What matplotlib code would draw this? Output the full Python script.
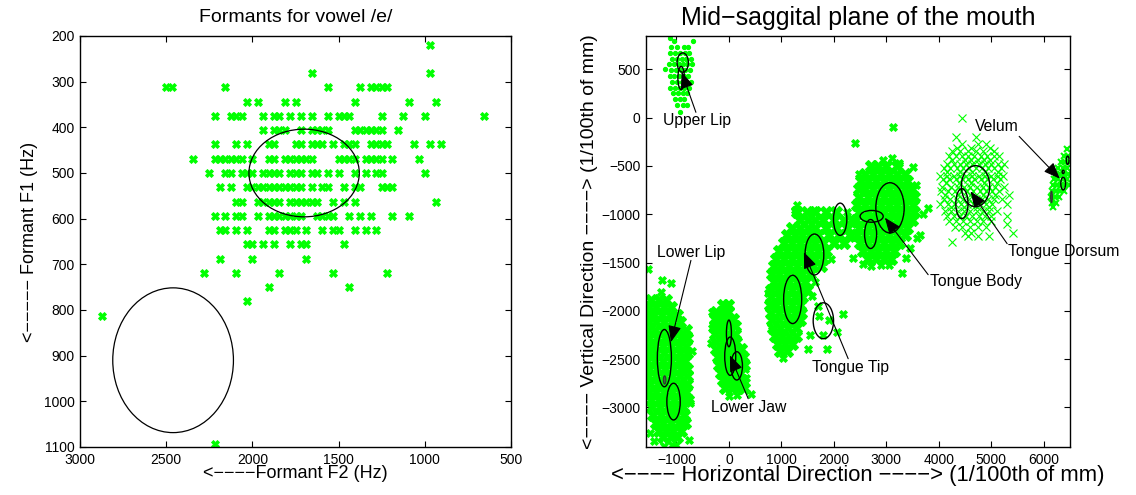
import matplotlib
matplotlib.use('Agg')
import matplotlib.pyplot as plt
from matplotlib.patches import Ellipse

plt.rcParams['font.family'] = ['Liberation Sans', 'DejaVu Sans']
plt.rcParams['axes.unicode_minus'] = True

GREEN = '#00ff00'

# ---------------- Left panel data: F1 level -> F2 values ----------------
f1_levels = [218.75, 281.25, 312.5, 343.75, 375, 406.25, 437.5, 468.75, 500,
             531.25, 562.5, 593.75, 625, 656.25, 687.5, 718.75, 750, 781.25,
             812.5, 1093.75]
f2_by_level = [
    [968.75],
    [1656.25, 968.75],
    [2500, 2468.75, 2156.25, 1562.5, 1375, 1312.5, 1281.25, 1250, 1218.75],
    [2031.25, 1968.75, 1812.5, 1750, 1406.25, 1093.75, 937.5],
    [2218.75, 2125, 2093.75, 2062.5, 1937.5, 1875, 1843.75, 1781.25, 1718.75,
     1656.25, 1562.5, 1500, 1468.75, 1437.5, 1250, 1125, 1000, 656.25],
    [1937.5, 1875, 1843.75, 1812.5, 1718.75, 1656.25, 1625, 1593.75, 1562.5,
     1406.25, 1375, 1343.75, 1312.5, 1281.25, 1250, 1156.25],
    [2218.75, 2093.75, 2031.25, 1906.25, 1875, 1750, 1718.75, 1656.25, 1625,
     1593.75, 1531.25, 1468.75, 1437.5, 1406.25, 1312.5, 1281.25, 1250,
     1218.75, 1062.5, 968.75, 906.25],
    [2343.75, 2218.75, 2187.5, 2156.25, 2125, 2093.75, 2062.5, 2000, 1906.25,
     1875, 1812.5, 1781.25, 1750, 1718.75, 1687.5, 1656.25, 1500, 1468.75,
     1437.5, 1406.25, 1343.75, 1312.5, 1281.25, 1250, 1187.5, 1031.25],
    [2250, 2156.25, 2125, 2062.5, 2031.25, 2000, 1937.5, 1906.25, 1875,
     1843.75, 1781.25, 1750, 1718.75, 1656.25, 1625, 1562.5, 1500, 1406.25,
     1343.75, 1281.25, 1250, 1000],
    [2187.5, 2125, 2031.25, 2000, 1968.75, 1937.5, 1906.25, 1875, 1843.75,
     1812.5, 1781.25, 1750, 1718.75, 1656.25, 1593.75, 1562.5, 1468.75,
     1406.25, 1375, 1250, 1218.75, 1187.5],
    [2093.75, 2062.5, 1968.75, 1937.5, 1906.25, 1875, 1843.75, 1781.25, 1750,
     1718.75, 1687.5, 1656.25, 1625, 1531.25, 1468.75, 1406.25, 937.5],
    [2218.75, 2156.25, 2093.75, 2062.5, 1968.75, 1906.25, 1875, 1843.75,
     1812.5, 1781.25, 1750, 1718.75, 1625, 1593.75, 1562.5, 1531.25, 1437.5,
     1375, 1312.5, 1187.5, 1093.75],
    [2187.5, 2156.25, 2093.75, 2031.25, 1906.25, 1875, 1812.5, 1781.25, 1750,
     1687.5, 1593.75, 1531.25, 1500, 1406.25, 1343.75, 1281.25],
    [2031.25, 2000, 1937.5, 1875, 1781.25, 1718.75, 1687.5, 1468.75],
    [2187.5, 2000, 1687.5],
    [2281.25, 2093.75, 1843.75, 1531.25, 1218.75],
    [1906.25, 1437.5],
    [2031.25],
    [2875],
    [2218.75],
]
# ellipses (F2 centre, F1 centre, width, height)
formant_ellipses = [(1700, 500, 640, 192), (2460, 910, 700, 317)]

# ---------------- Right panel data (core rows: y -> list of x) ----------------
upper_lip_rows = [
    (820, [-1120]), (790, [-1040, -680]), (730, [-1100, -980, -860, -780]),
    (670, [-1120, -1020, -930, -840, -760]),
    (610, [-1080, -990, -900, -810, -730]),
    (550, [-1150, -1050, -960, -870, -790, -700]),
    (500, [-1220]),
    (490, [-1100, -1010, -920, -830, -750]),
    (430, [-1130, -1040, -950, -860, -780]),
    (370, [-1080, -990, -900, -810, -730]),
    (310, [-1120, -1030, -940, -850, -770]),
    (250, [-1060, -970, -880, -800]),
    (190, [-1030, -940, -850]),
    (130, [-980, -880, -800]),
    (60, [-930]),
]
lower_lip_rows = [
    (-1890, [-1480, -1330, -1200]),
    (-1960, [-1530, -1390, -1240, -1100]),
    (-2040, [-1550, -1420, -1270, -1120, -980]),
    (-2120, [-1530, -1380, -1230, -1080, -930]),
    (-2200, [-1550, -1400, -1250, -1100, -950, -820]),
    (-2280, [-1520, -1370, -1220, -1070, -920, -790]),
    (-2360, [-1550, -1400, -1250, -1100, -950, -810]),
    (-2440, [-1530, -1380, -1230, -1080, -930, -800]),
    (-2520, [-1560, -1410, -1260, -1110, -960, -830]),
    (-2600, [-1520, -1370, -1220, -1070, -920, -790]),
    (-2680, [-1540, -1390, -1240, -1090, -940, -800]),
    (-2760, [-1510, -1360, -1210, -1060, -910, -790]),
    (-2840, [-1530, -1380, -1230, -1080, -930, -810]),
    (-2920, [-1490, -1340, -1190, -1040, -890, -780]),
    (-3000, [-1470, -1320, -1170, -1020, -870]),
    (-3080, [-1440, -1300, -1150, -1000, -860]),
    (-3160, [-1390, -1250, -1100, -960, -840]),
    (-3240, [-1340, -1200, -1060, -920]),
    (-3310, [-1250, -1110, -990]),
]
lower_lip_fringe_x = [-1550, -1280, -1100, -1300, -1580, -1590, -820, -790,
                      -1500, -760, -1230, -1080, -1000, -700, -1420, -740]
lower_lip_fringe_y = [-1570, -1680, -1710, -1810, -2050, -2500, -2270, -2750,
                      -3270, -3340, -3395, -3390, -3390, -2420, -3350, -2950]
lower_jaw_rows = [
    (-1940, [-120, -20]),
    (-2010, [-250, -140, -10]),
    (-2080, [-270, -160, -40, 80]),
    (-2160, [-270, -150, -20, 110]),
    (-2240, [-260, -140, -10, 120]),
    (-2320, [-240, -120, 10, 140]),
    (-2400, [-240, -120, 0, 130, 230]),
    (-2480, [-210, -90, 40, 170, 260]),
    (-2560, [-190, -70, 60, 190, 280]),
    (-2640, [-160, -40, 90, 220]),
    (-2720, [-120, 0, 130, 250]),
    (-2800, [-70, 50, 180, 290]),
]
lower_jaw_fringe_x = [-330, -320, 0, 150, 420, 330, -350, 300]
lower_jaw_fringe_y = [-2010, -2180, -2880, -2870, -2860, -2700, -2330, -2600]
tongue_tip_rows = [
    (-980, [1300, 1480, 1650, 1850, 2050]),
    (-1060, [1350, 1500, 1650, 1800, 2000, 2200, 2350]),
    (-1140, [1200, 1350, 1500, 1650, 1850, 2050, 2250]),
    (-1220, [1100, 1250, 1400, 1550, 1700, 1900, 2100, 2300]),
    (-1300, [1050, 1200, 1350, 1500, 1650, 1800, 2000, 2200]),
    (-1380, [950, 1100, 1250, 1400, 1550, 1700, 1850]),
    (-1460, [900, 1050, 1200, 1350, 1500, 1650, 1800]),
    (-1540, [850, 1000, 1150, 1300, 1450, 1600, 1750]),
    (-1620, [830, 950, 1100, 1250, 1400, 1550]),
    (-1700, [850, 1000, 1150, 1300, 1450]),
    (-1780, [800, 930, 1050, 1200, 1350, 1480]),
    (-1860, [800, 950, 1100, 1250, 1400]),
    (-1940, [790, 900, 1050, 1200, 1350]),
    (-2020, [800, 950, 1100, 1250, 1380]),
    (-2100, [820, 960, 1100, 1230, 1350]),
    (-2180, [840, 980, 1120, 1270]),
    (-2260, [880, 1020, 1150, 1280]),
    (-2340, [930, 1070, 1200]),
    (-2420, [980, 1100]),
]
tongue_tip_fringe_x = [1300, 1620, 1250, 2250, 750, 813, 1035, 1860, 2060, 2180,
                       1700, 1900, 1800, 1550, 1950, 1650, 1500, 2370, 1580, 1720]
tongue_tip_fringe_y = [-900, -960, -960, -980, -1820, -2200, -2490, -2400,
                       -2220, -2030, -1950, -2100, -2250, -2250, -1460, -1700,
                       -2400, -1450, -1850, -2050]
tongue_body_rows = [
    (-500, [2700, 2850, 3000, 3200]),
    (-580, [2600, 2750, 2900, 3050, 3200, 3350]),
    (-660, [2520, 2650, 2800, 2950, 3100, 3250, 3400]),
    (-740, [2470, 2600, 2750, 2900, 3050, 3200, 3350, 3480]),
    (-820, [2480, 2650, 2800, 2950, 3100, 3250, 3400, 3520]),
    (-900, [2450, 2600, 2750, 2900, 3050, 3200, 3350, 3500]),
    (-980, [2480, 2650, 2800, 2950, 3100, 3250, 3400, 3520]),
    (-1060, [2420, 2600, 2750, 2900, 3050, 3200, 3350, 3480]),
    (-1140, [2480, 2650, 2800, 2950, 3100, 3250, 3400]),
    (-1220, [2450, 2600, 2750, 2900, 3050, 3200, 3350]),
    (-1300, [2500, 2650, 2800, 2950, 3100, 3250]),
    (-1380, [2550, 2700, 2850, 3000, 3150]),
    (-1460, [2650, 2800, 2950, 3080]),
]
tongue_body_fringe_x = [3130, 2400, 2940, 3100, 3500, 3250, 3800, 3700, 3650,
                        3290, 3580, 2300, 2350, 2560, 3450, 3560, 2700, 2900,
                        3050, 2480, 3380]
tongue_body_fringe_y = [-100, -260, -440, -420, -510, -470, -940, -1000, -1220,
                        -1610, -1250, -1250, -1100, -1520, -1350, -700, -1540,
                        -1530, -1530, -580, -1450]
tongue_dorsum_rows = [
    (0, [4450]),
    (-200, [4330, 4700]),
    (-270, [4450, 4750, 4900]),
    (-310, [4350, 4620, 4980]),
    (-350, [4250, 4400, 4550, 4700, 4850, 5050]),
    (-400, [4200, 4320, 4440, 4560, 4680, 4800, 4920, 5050, 5150]),
    (-440, [4260, 4500, 4620, 4740, 4860, 4980]),
    (-480, [4150, 4280, 4400, 4520, 4640, 4760, 4880, 5000, 5120, 5250]),
    (-520, [4100, 4220, 4340, 4460, 4580, 4700, 4820, 4940, 5060, 5180]),
    (-560, [4160, 4400, 4640, 4880, 5120]),
    (-600, [4020, 4150, 4280, 4400, 4520, 4640, 4760, 4880, 5000, 5120, 5230]),
    (-640, [4080, 4200, 4320, 4440, 4560, 4680, 4800, 4920, 5040, 5160]),
    (-680, [4140, 4380, 4620, 4860, 5100]),
    (-720, [4060, 4240, 4360, 4480, 4600, 4720, 4840, 4960, 5080, 5250]),
    (-760, [4050, 4180, 4300, 4420, 4540, 4660, 4780, 4900, 5020, 5140]),
    (-800, [4120, 4360, 4600, 4840, 5080, 5330]),
    (-840, [4100, 4220, 4340, 4460, 4580, 4700, 4820, 4940, 5060, 5200]),
    (-890, [4020, 4180, 4300, 4420, 4540, 4660, 4780, 4900, 5020, 5300]),
    (-930, [4240, 4480, 4720, 4960]),
    (-970, [4120, 4240, 4360, 4480, 4600, 4720, 4840, 4960, 5100]),
    (-1020, [4150, 4280, 4400, 4520, 4640, 4760, 4880, 5000, 5300]),
    (-1070, [4200, 4330, 4460, 4590, 4720, 4850, 5000]),
    (-1100, [5300]),
    (-1130, [4300, 4450, 4600, 4750, 4900]),
    (-1190, [4500, 4620, 5420]),
    (-1230, [4560, 4740, 4960]),
    (-1290, [4260]),
]
velum_rows = [
    (-330, [6450]),
    (-400, [6380, 6470]),
    (-460, [6320, 6400, 6480]),
    (-520, [6280, 6360, 6440]),
    (-580, [6230, 6310, 6390, 6470]),
    (-640, [6200, 6280, 6360, 6440]),
    (-700, [6170, 6250, 6330, 6410, 6490]),
    (-760, [6150, 6230, 6310, 6390]),
    (-820, [6130, 6210, 6290]),
    (-880, [6150, 6230]),
    (-930, [6180]),
]
# ellipses (x centre, y centre, width, height)
mouth_ellipses = [
    (-880, 570, 215, 200), (-910, 410, 125, 240),
    (-1230, -2490, 268, 593), (-1055, -2940, 255, 380),
    (0, -2234, 95, 276), (25, -2470, 210, 397), (150, -2570, 216, 293),
    (1215, -1882, 344, 500), (1630, -1417, 357, 424), (2120, -1052, 254, 334),
    (1800, -2103, 388, 372),
    (3070, -934, 540, 520), (2720, -1022, 440, 122), (2700, -1205, 230, 300),
    (4700, -710, 540, 425), (4440, -890, 232, 310),
    (6370, -683, 90, 131), (6455, -441, 51, 86), (6370, -562, 38, 34),
]
small_dark_ellipses = [(-1225, -2716, 50, 86), (6147, -821, 32, 120)]

# annotation: label, text pos, arrow tail, arrow head
label_names = ['Upper Lip', 'Lower Lip', 'Lower Jaw', 'Tongue Tip',
               'Tongue Body', 'Tongue Dorsum', 'Velum']
label_pos = [(-615, -28), (-720, -1400), (368, -3002), (2311, -2591),
             (4702, -1693), (6382, -1390), (5105, -92)]
arrow_tail = [(-629, 55), (-724, -1478), (368, -2910), (2273, -2496),
              (3797, -1626), (5302, -1305), (5531, -194)]
arrow_head = [(-901, 472), (-1105, -2324), (19, -2461), (1429, -1392),
              (2972, -1036), (4604, -763), (6305, -632)]


def expand(rows):
    xs, ys = [], []
    for y, xl in rows:
        for x in xl:
            xs.append(x)
            ys.append(y)
    return xs, ys


fig = plt.figure(figsize=(11.36, 4.95), dpi=100)
W, H = 1136, 495
axL = fig.add_axes([80 / W, 48 / H, 431 / W, 411 / H])
axR = fig.add_axes([646 / W, 48 / H, 424 / W, 411 / H])

# ---- left panel ----
fx, fy = [], []
for f1, row in zip(f1_levels, f2_by_level):
    for f2 in row:
        fx.append(f2)
        fy.append(f1)
axL.plot(fx, fy, 'X', ls='none', ms=5.3, color=GREEN, mec=GREEN, mew=0.6, zorder=2)
for cx, cy, w, h in formant_ellipses:
    axL.add_patch(Ellipse((cx, cy), w, h, fill=False, ec='black', lw=0.9, zorder=3))
axL.set_xlim(3000, 500)
axL.set_ylim(1100, 200)
axL.set_xticks([3000, 2500, 2000, 1500, 1000, 500])
axL.set_yticks([200, 300, 400, 500, 600, 700, 800, 900, 1000, 1100])
axL.set_title('Formants for vowel /e/', fontsize=14, pad=10)
axL.set_xlabel('<\u2212\u2212\u2212\u2212Formant F2 (Hz)', fontsize=13, labelpad=-1)
axL.set_ylabel('<\u2212\u2212\u2212\u2212\u2212 Formant F1 (Hz)', fontsize=13, labelpad=4)

# ---- right panel ----
core_kw = dict(ls='none', marker='X', ms=8, color=GREEN, mec=GREEN, mew=0.8, zorder=2)
fringe_kw = dict(ls='none', marker='X', ms=5.5, color=GREEN, mec=GREEN, mew=0.6, zorder=2)
for rows in (lower_lip_rows, lower_jaw_rows, tongue_tip_rows, tongue_body_rows):
    xs, ys = expand(rows)
    axR.plot(xs, ys, **core_kw)
for fxs, fys in ((lower_lip_fringe_x, lower_lip_fringe_y),
                 (lower_jaw_fringe_x, lower_jaw_fringe_y),
                 (tongue_tip_fringe_x, tongue_tip_fringe_y),
                 (tongue_body_fringe_x, tongue_body_fringe_y)):
    axR.plot(fxs, fys, **fringe_kw)
xs, ys = expand(tongue_dorsum_rows)
axR.plot(xs, ys, ls='none', marker='x', ms=5.5, color=GREEN, mew=0.8, zorder=2)
xs, ys = expand(upper_lip_rows)
axR.plot(xs, ys, ls='none', marker='o', ms=2.8, color=GREEN, mec=GREEN, zorder=2)
xs, ys = expand(velum_rows)
axR.plot(xs, ys, ls='none', marker='x', ms=4, color=GREEN, mew=1.5, zorder=2)

for cx, cy, w, h in mouth_ellipses:
    axR.add_patch(Ellipse((cx, cy), w, h, fill=False, ec='black', lw=1.0, zorder=3))
for cx, cy, w, h in small_dark_ellipses:
    axR.add_patch(Ellipse((cx, cy), w, h, fc='#3a6a3a', ec='#333333', lw=0.8, zorder=3))

for name, tp, tail, head in zip(label_names, label_pos, arrow_tail, arrow_head):
    axR.annotate('', xy=head, xytext=tail,
                 arrowprops=dict(arrowstyle='-|>,head_length=1.0,head_width=0.4',
                                 color='black', lw=0.8, shrinkA=0, shrinkB=0),
                 annotation_clip=False, zorder=4)
    axR.text(tp[0], tp[1], name, fontsize=11.3, ha='center', va='center',
             clip_on=False, zorder=4)

axR.set_xlim(-1580, 6500)
axR.set_ylim(-3410, 845)
axR.set_xticks([-1000, 0, 1000, 2000, 3000, 4000, 5000, 6000])
axR.set_yticks([-3000, -2500, -2000, -1500, -1000, -500, 0, 500])
axR.set_title('Mid\u2212saggital plane of the mouth', fontsize=18, pad=8)
axR.set_xlabel('<\u2212\u2212\u2212\u2212 Horizontal Direction \u2212\u2212\u2212\u2212> (1/100th of mm)',
               fontsize=15.8, labelpad=-1)
axR.set_ylabel('<\u2212\u2212\u2212\u2212 Vertical Direction \u2212\u2212\u2212\u2212> (1/100th of mm)',
               fontsize=14, labelpad=2)

for ax in (axL, axR):
    ax.tick_params(direction='in', top=True, right=True, labelsize=10,
                   length=4, width=0.8, pad=4)
    for s in ax.spines.values():
        s.set_linewidth(1.0)

fig.savefig('out.png', dpi=100)
